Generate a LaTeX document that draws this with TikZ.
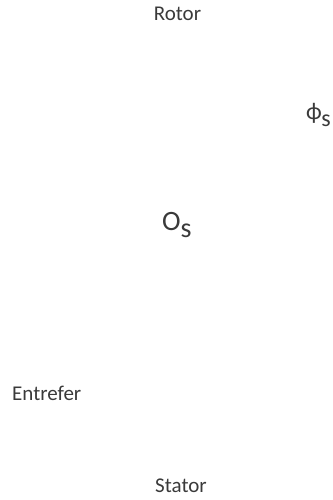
\documentclass[tikz,border=0pt]{standalone}
\usepackage{fontspec}
\setmainfont{Carlito}
\definecolor{txt}{HTML}{3A3A3A}
\tikzset{lbl/.style={inner sep=0pt, text=txt, font=\fontsize{21}{24}\selectfont},
big/.style={inner sep=0pt, text=txt, font=\fontsize{28}{32}\selectfont},
phisty/.style={inner sep=0pt, text=txt, font=\fontsize{24}{28}\selectfont}}
\begin{document}
\begin{tikzpicture}[x=1pt,y=-1pt]
\useasboundingbox (0,0) rectangle (332,500);
\node[lbl, anchor=base] (rotor) at (177.5,20.7) {Rotor};
\node[phisty, anchor=base east] (phi) at (331,120) {ϕ\kern-0.5pt\raisebox{-6pt}{s}};
\node[big, anchor=base west] (os) at (162,230) {O\raisebox{-7pt}{s}};
\node[lbl, anchor=base west] (entrefer) at (12,400.7) {Entrefer};
\node[lbl, anchor=base] (stator) at (181,492.5) {Stator};
\end{tikzpicture}
\end{document}
